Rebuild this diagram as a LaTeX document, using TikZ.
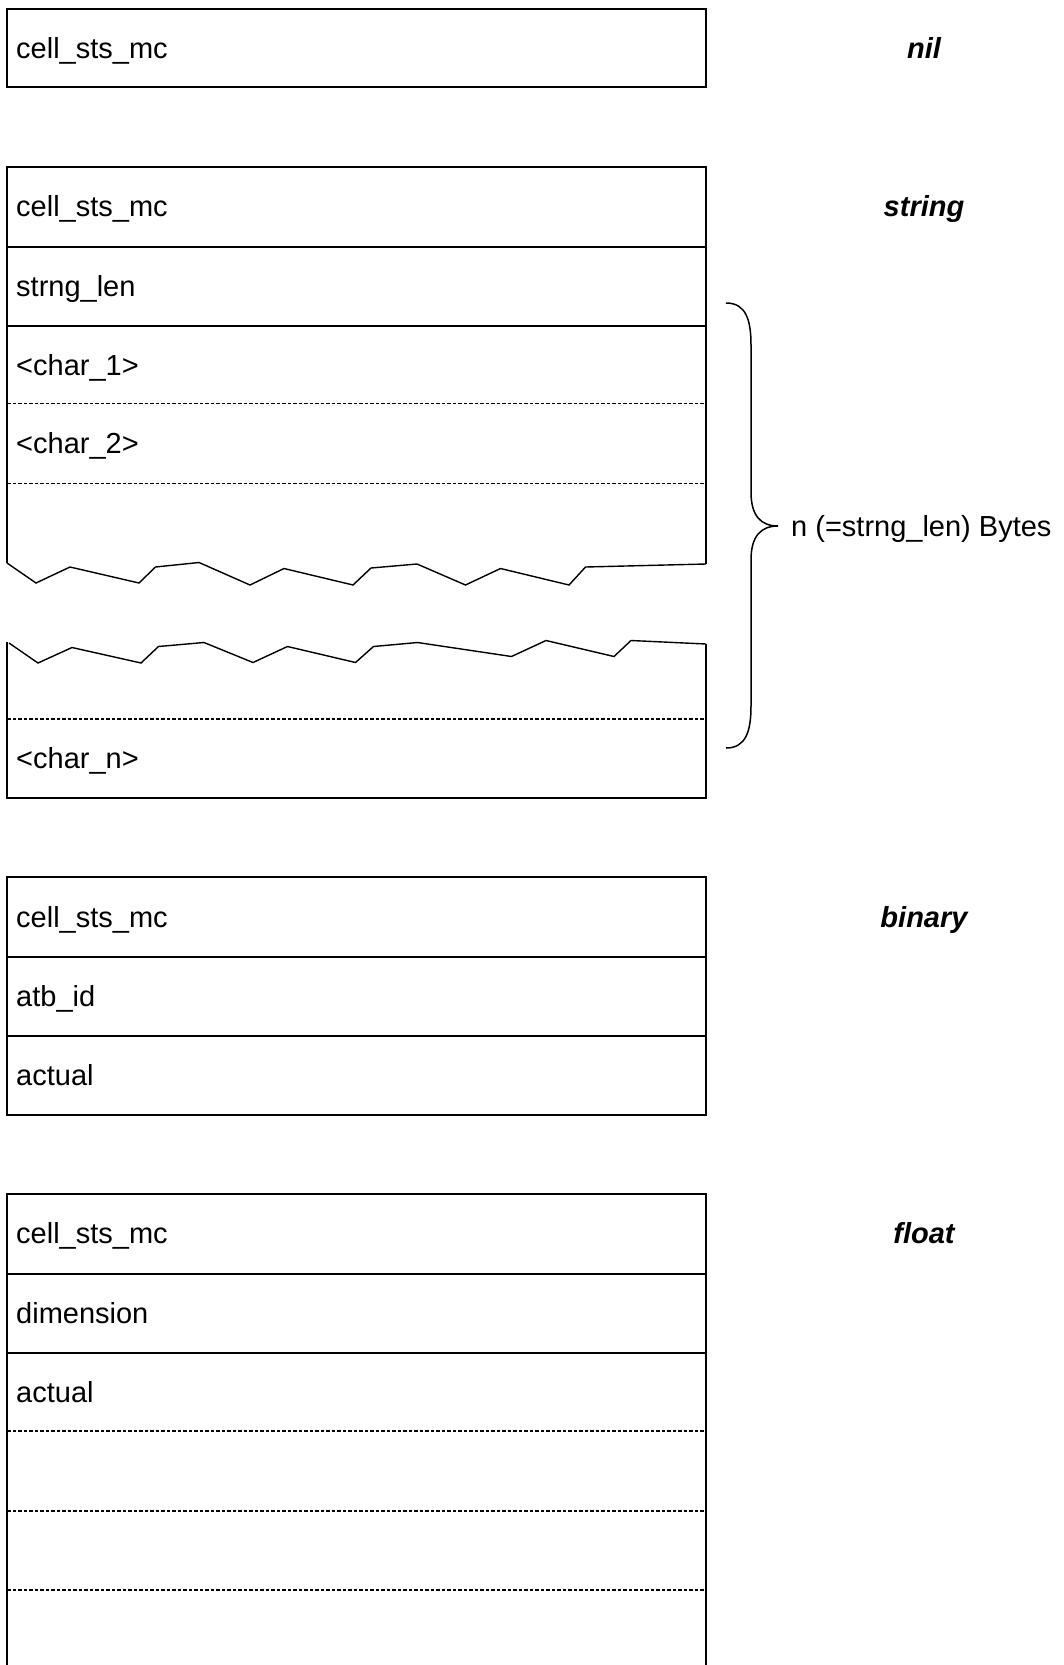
\documentclass[tikz,border=0pt]{standalone}
\usepackage{fontspec}
\setmainfont{Liberation Sans}
\begin{document}
\begin{tikzpicture}[x=1pt,y=-1pt,
  outer/.style={line width=2pt,line join=miter},
  sep/.style={line width=2pt},
  dsep/.style={line width=1.1pt,dash pattern=on 3.5pt off 2pt},
  jag/.style={line width=1.4pt,line join=miter},
  field/.style={anchor=base west,inner sep=0pt,font=\fontsize{29}{34}\selectfont},
  kind/.style={anchor=base,inner sep=0pt,font=\fontsize{29}{34}\selectfont\bfseries\itshape},
  bracestyle/.style={line width=1.5pt}]
\useasboundingbox (0,0) rectangle (1064,1665);
% ---- nil ----
\draw[outer] (7,9) rectangle (706,87);
\node[field] (nilA) at (16,58) {cell\_sts\_mc};
\node[kind] (nilL) at (924,58) {nil};
% ---- string ----
\draw[outer] (7,563) -- (7,167) -- (706,167) -- (706,564);
\draw[sep] (7,246.5) -- (706,246.5);
\draw[sep] (7,326) -- (706,326);
\draw[dsep] (7,403.5) -- (706,403.5);
\draw[dsep] (7,483.5) -- (706,483.5);
\draw[jag] (7,563) -- (36,583) -- (70,567) -- (139,583) -- (155.5,567) -- (199,562.5) -- (250,585) -- (284,568.5) -- (353,585) -- (371,568) -- (417,564) -- (465.5,585) -- (500.5,568.5) -- (569,585) -- (585.5,567) -- (706,564);
\draw[jag] (9,643) -- (38,663) -- (72,647.5) -- (141,663) -- (158.5,646.5) -- (204,642.5) -- (253,662.5) -- (287.5,646.5) -- (355.5,662.5) -- (373.5,646.5) -- (417.5,642.5) -- (511.5,656.5) -- (546,640.5) -- (614,656.5) -- (631,640.5) -- (706,644);
\draw[outer] (7,642) -- (7,797.5) -- (706,797.5) -- (706,644);
\draw[dsep] (7,719) -- (706,719);
\node[field] (sA) at (16,216.5) {cell\_sts\_mc};
\node[field] (sB) at (16,296) {strng\_len};
\node[field] (sC) at (16,375) {<char\_1>};
\node[field] (sD) at (16,453.5) {<char\_2>};
\node[field] (sE) at (16,768) {<char\_n>};
\node[kind] (strL) at (924,216.5) {string};
\coordinate (brTop) at (726,303);
\coordinate (brTip) at (778,526);
\coordinate (brBot) at (726,748);
\draw[bracestyle] (brTop) .. controls (746,303) and (751,320) .. (751,345) -- (751,492)
  .. controls (751,516) and (761,526) .. (brTip)
  .. controls (761,526) and (751,536) .. (751,560) -- (751,706)
  .. controls (751,731) and (746,748) .. (brBot);
\node[field] (nB) at (791,536) {n (=strng\_len) Bytes};
% ---- binary ----
\draw[outer] (7,877) rectangle (706,1115);
\draw[sep] (7,957) -- (706,957);
\draw[sep] (7,1035.5) -- (706,1035.5);
\node[field] (bA) at (16,927) {cell\_sts\_mc};
\node[field] (bB) at (16,1006) {atb\_id};
\node[field] (bC) at (16,1085) {actual};
\node[kind] (binL) at (924,927) {binary};
% ---- float ----
\draw[outer] (7,1666) -- (7,1194) -- (706,1194) -- (706,1666);
\draw[sep] (7,1273.5) -- (706,1273.5);
\draw[sep] (7,1352.5) -- (706,1352.5);
\draw[dsep] (7,1431) -- (706,1431);
\draw[dsep] (7,1511) -- (706,1511);
\draw[dsep] (7,1590) -- (706,1590);
\node[field] (fA) at (16,1243.5) {cell\_sts\_mc};
\node[field] (fB) at (16,1323) {dimension};
\node[field] (fC) at (16,1402) {actual};
\node[kind] (fltL) at (924,1243.5) {float};
\end{tikzpicture}
\end{document}
